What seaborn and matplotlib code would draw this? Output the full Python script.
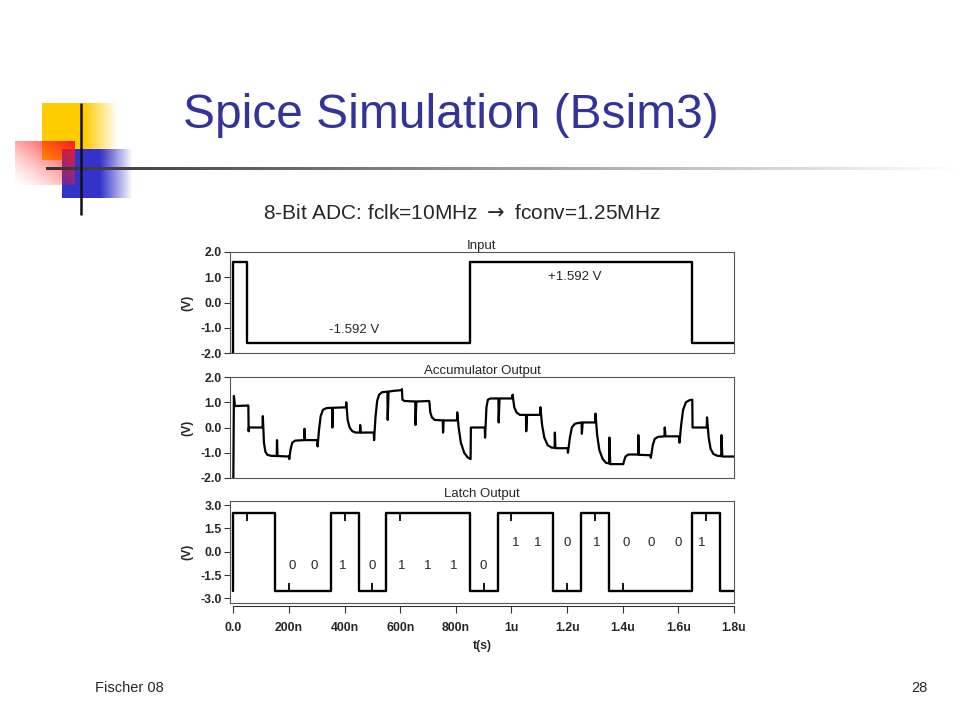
import numpy as np
import matplotlib
matplotlib.use("Agg")
import matplotlib.pyplot as plt
import seaborn as sns

# Input: square wave (time in us, volts), drawn as steps
input_t = [0.0, 0.0, 0.05, 0.85, 1.65, 1.8]
input_v = [-2.0, 1.592, -1.592, 1.592, -1.592, -1.592]

# Accumulator output
acc_t = [0.000, 0.002, 0.006, 0.054,
         0.055, 0.056, 0.060, 0.105,
         0.106, 0.110, 0.115, 0.122, 0.135, 0.156, 0.157, 0.159, 0.200,
         0.201, 0.206, 0.212, 0.222, 0.255, 0.256, 0.258, 0.302,
         0.303, 0.308, 0.314, 0.322, 0.335, 0.355, 0.356, 0.358, 0.405,
         0.406, 0.411, 0.418, 0.428, 0.440, 0.455, 0.456, 0.458, 0.505,
         0.506, 0.511, 0.517, 0.524, 0.535, 0.554, 0.555, 0.558, 0.575, 0.605,
         0.606, 0.608, 0.615, 0.654, 0.655, 0.658, 0.704,
         0.705, 0.708, 0.714, 0.724, 0.753, 0.754, 0.756, 0.804,
         0.805, 0.810, 0.818, 0.830, 0.842, 0.853,
         0.854, 0.856, 0.904,
         0.905, 0.910, 0.915, 0.925, 0.953, 0.954, 0.957, 1.003,
         1.004, 1.010, 1.018, 1.030, 1.052, 1.053, 1.056, 1.103,
         1.104, 1.110, 1.118, 1.130, 1.145, 1.155, 1.156, 1.158, 1.202,
         1.203, 1.210, 1.217, 1.228, 1.252, 1.253, 1.256, 1.301,
         1.302, 1.308, 1.316, 1.328, 1.340, 1.351, 1.352, 1.355, 1.401,
         1.402, 1.404, 1.410, 1.420, 1.455, 1.456, 1.458, 1.500,
         1.501, 1.508, 1.515, 1.527, 1.550, 1.551, 1.554, 1.603,
         1.604, 1.610, 1.617, 1.627, 1.640, 1.650,
         1.651, 1.653, 1.702,
         1.703, 1.709, 1.716, 1.726, 1.740, 1.754, 1.755, 1.758, 1.800]
acc_v = [-2.00, 1.25, 0.85, 0.87,
         -0.15, 0.00, 0.00, 0.00,
         0.45, -0.60, -0.95, -1.08, -1.12, -1.13, -0.50, -1.13, -1.15,
         -1.25, -0.85, -0.60, -0.52, -0.50, -0.05, -0.50, -0.50,
         -0.75, -0.10, 0.45, 0.70, 0.77, 0.78, 0.00, 0.78, 0.80,
         1.00, 0.30, 0.00, -0.15, -0.20, -0.20, 0.10, -0.20, -0.20,
         -0.50, 0.40, 1.05, 1.30, 1.40, 1.42, 0.30, 1.42, 1.45, 1.48,
         1.52, 1.10, 1.05, 1.03, 0.10, 1.03, 1.05,
         1.00, 0.60, 0.40, 0.30, 0.28, -0.20, 0.28, 0.28,
         0.60, 0.00, -0.60, -1.00, -1.18, -1.25,
         0.00, 0.00, 0.00,
         -0.40, 0.80, 1.10, 1.15, 1.15, 0.20, 1.15, 1.15,
         1.30, 0.80, 0.60, 0.50, 0.50, -0.15, 0.50, 0.50,
         0.80, 0.10, -0.40, -0.70, -0.80, -0.80, -0.20, -0.82, -0.82,
         -1.00, -0.40, 0.00, 0.15, 0.20, -0.25, 0.20, 0.20,
         0.55, -0.30, -0.90, -1.25, -1.40, -1.42, -0.40, -1.45, -1.45,
         -1.45, -1.35, -1.15, -1.07, -1.07, -0.30, -1.08, -1.10,
         -1.20, -0.70, -0.45, -0.37, -0.35, 0.00, -0.35, -0.35,
         -0.60, 0.10, 0.70, 1.00, 1.08, 1.10,
         0.00, 0.00, 0.00,
         0.40, -0.40, -0.85, -1.05, -1.12, -1.13, -0.30, -1.15, -1.15]

# Latch output: step levels and the small clock glitches
latch_t = [0.0, 0.0, 0.15, 0.35, 0.45, 0.55, 0.85, 0.95, 1.15, 1.25, 1.35, 1.65, 1.75, 1.8]
latch_v = [-2.5, 2.5, -2.5, 2.5, -2.5, 2.5, -2.5, 2.5, -2.5, 2.5, -2.5, 2.5, -2.5, -2.5]
glitch_t = [0.05, 0.2, 0.4, 0.5, 0.6, 0.9, 1.0, 1.2, 1.3, 1.4, 1.7]
glitch_tip = [2.0, -2.0, 2.0, -2.0, 2.0, -2.0, 2.0, -2.0, 2.0, -2.0, 2.0]

# decoded bits
bits_a = ["0", "0", "1", "0", "1", "1", "1", "0"]
bits_a_t = [0.21, 0.29, 0.393, 0.50, 0.606, 0.699, 0.792, 0.898]
bits_b = ["1", "1", "0", "1", "0", "0", "0", "1"]
bits_b_t = [1.016, 1.093, 1.20, 1.306, 1.412, 1.501, 1.598, 1.684]

x_ticks = [0.0, 0.2, 0.4, 0.6, 0.8, 1.0, 1.2, 1.4, 1.6, 1.8]
x_labels = ["0.0", "200n", "400n", "600n", "800n", "1u", "1.2u", "1.4u", "1.6u", "1.8u"]

sns.set_style("white")
plt.rcParams["font.family"] = ["Liberation Sans", "DejaVu Sans"]

fig = plt.figure(figsize=(9.6, 7.2), dpi=100)

# slide background / logo (pixel coordinates)
bg = fig.add_axes([0, 0, 1, 1])
bg.set_xlim(0, 960)
bg.set_ylim(720, 0)
bg.axis("off")


def grad_rect(x0, x1, y0, y1, rgb, alpha):
    img = np.zeros(alpha.shape + (4,))
    img[..., :3] = rgb
    img[..., 3] = alpha
    bg.imshow(img, extent=(x0, x1, y1, y0), origin="upper", aspect="auto",
              interpolation="bilinear")


xs = np.linspace(0, 1, 120)
ys = np.linspace(0, 1, 80)
X, Y = np.meshgrid(xs, ys)

# yellow square: solid then fading to the right
px = 42 + X * (118 - 42)
grad_rect(42, 118, 103, 160, (1.0, 0.8, 0.0), np.clip((118 - px) / 33.0, 0, 1))
# blue square
px = 62 + X * (133 - 62)
grad_rect(62, 133, 149, 198, (0.2, 0.2, 0.8), np.clip((133 - px) / 33.0, 0, 1))
# red square: strong top right, white bottom left
grad_rect(15, 75, 141, 185, (1.0, 0.1, 0.1), np.clip(((X + (1 - Y)) / 2) ** 1.4, 0, 1))

# horizontal rule fading to the right
line_x = np.linspace(0, 1, 400)
strip = np.ones((1, 400, 4))
strip[0, :, :3] = (0.2 + 0.8 * line_x)[:, None]
bg.imshow(strip, extent=(46, 960, 170.5, 167.5), origin="upper", aspect="auto",
          interpolation="bilinear")
bg.plot([80.5, 80.5], [103, 215], color="#111111", lw=1.8, solid_capstyle="butt")
bg.set_xlim(0, 960)
bg.set_ylim(720, 0)

fig.text(450.5 / 960, 1 - 116 / 720, "Spice Simulation (Bsim3)", color="#333399",
         fontsize=34.5, ha="center", va="center")
fig.text(462 / 960, 1 - 213 / 720, "8-Bit ADC: fclk=10MHz $\\rightarrow$ fconv=1.25MHz",
         fontsize=15, ha="center", va="center")
fig.text(95 / 960, 1 - 688 / 720, "Fischer 08", fontsize=10.5, ha="left", va="center")
fig.text(928 / 960, 1 - 688 / 720, "28", fontsize=10.5, ha="right", va="center")

# the three waveform panels
left, width = 230 / 960, 504 / 960
ax1 = fig.add_axes([left, 1 - 353 / 720, width, 101 / 720])
ax2 = fig.add_axes([left, 1 - 478 / 720, width, 101 / 720])
ax3 = fig.add_axes([left, 1 - 602.7 / 720, width, 102 / 720])

sns.lineplot(x=input_t, y=input_v, ax=ax1, sort=False, estimator=None,
             color="black", lw=1.7, drawstyle="steps-post")
sns.lineplot(x=acc_t, y=acc_v, ax=ax2, sort=False, estimator=None,
             color="black", lw=1.6)
sns.lineplot(x=latch_t, y=latch_v, ax=ax3, sort=False, estimator=None,
             color="black", lw=1.7, drawstyle="steps-post")
ax3.vlines(glitch_t, 2.5 * np.sign(glitch_tip), glitch_tip, color="black", lw=1.3)

ax1.text(0.433, -1.09, "-1.592 V", fontsize=9.5, ha="center", va="center")
ax1.text(1.229, 1.01, "+1.592 V", fontsize=9.5, ha="center", va="center")
for b, t in zip(bits_a, bits_a_t):
    ax3.text(t, -0.9, b, fontsize=9.5, ha="center", va="center")
for b, t in zip(bits_b, bits_b_t):
    ax3.text(t, 0.55, b, fontsize=9.5, ha="center", va="center")

panels = [(ax1, "Input", (-2, 2), [2, 1, 0, -1, -2]),
          (ax2, "Accumulator Output", (-2, 2), [2, 1, 0, -1, -2]),
          (ax3, "Latch Output", (-3.28, 3.28), [3, 1.5, 0, -1.5, -3])]
for ax, title, ylim, yt in panels:
    ax.set_xlim(-0.012, 1.8)
    ax.set_ylim(*ylim)
    ax.set_yticks(yt, ["%.1f" % v for v in yt], fontweight="bold", fontsize=8.8)
    ax.set_xticks([])
    ax.tick_params(axis="y", direction="out", length=4, width=0.8, pad=2,
                   left=True, color="#333333")
    ax.set_title(title, fontsize=9.5, pad=2.5)
    ax.set_ylabel("(V)", fontweight="bold", fontsize=8.8)
    ax.yaxis.set_label_coords(-0.072, 0.5)
    ax.set_xlabel("")
    for s in ax.spines.values():
        s.set_color("#555555")
        s.set_linewidth(0.8)

# separate time axis under the latch panel
sec = ax3.secondary_xaxis(-0.035)
sec.set_xticks(x_ticks, x_labels, fontweight="bold", fontsize=8.8)
sec.tick_params(direction="out", length=5, width=0.8, pad=6, color="#333333")
sec.spines["bottom"].set_bounds(0, 1.8)
sec.spines["bottom"].set_color("#333333")
sec.spines["bottom"].set_linewidth(0.8)
sec.set_xlabel("t(s)", fontweight="bold", fontsize=8.8, labelpad=5)

plt.savefig("out.png", dpi=100)
plt.close()
